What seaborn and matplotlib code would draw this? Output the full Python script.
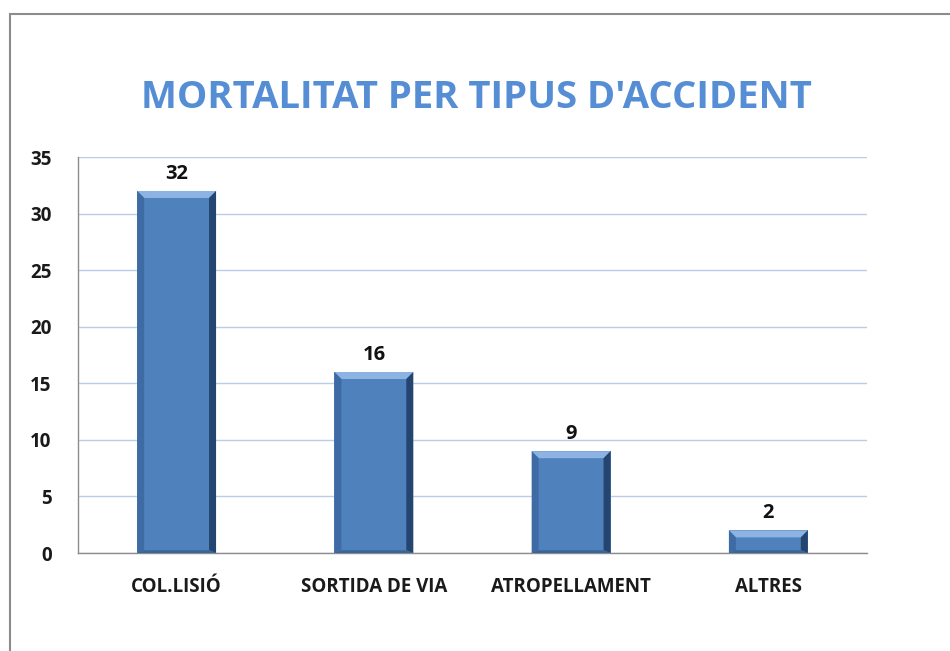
import matplotlib
matplotlib.use('Agg')
import matplotlib.pyplot as plt
import seaborn as sns
import pandas as pd
from matplotlib.patches import Polygon, Rectangle

# dades del grafic
tipus = ['COL.LISIÓ', 'SORTIDA DE VIA', 'ATROPELLAMENT', 'ALTRES']
morts = [32, 16, 9, 2]

df = pd.DataFrame({'tipus': tipus, 'morts': morts})

sns.set_style('white')
plt.rcParams['font.family'] = ['Open Sans', 'DejaVu Sans']

fig = plt.figure(figsize=(9.5, 6.51), dpi=100)
ax = fig.add_axes([0.0821, 0.1505, 0.8305, 0.6083])

sns.barplot(data=df, x='tipus', y='morts', color='#4f81bd', width=0.4,
            saturation=1, ax=ax, edgecolor='none', zorder=3)

ax.set_ylim(0, 35)
ax.set_xlim(-0.5, 3.5)
ax.set_yticks(range(0, 36, 5))
ax.yaxis.grid(True, color='#b9cde8', lw=1, zorder=0)
ax.set_xlabel('')
ax.set_ylabel('')

for s in ['top', 'right']:
    ax.spines[s].set_visible(False)
for s in ['left', 'bottom']:
    ax.spines[s].set_color('#8c8c8c')
    ax.spines[s].set_linewidth(1)

ax.tick_params(axis='y', length=8, width=1, color='#8c8c8c', labelsize=13.5, pad=11)
ax.tick_params(axis='x', length=0, labelsize=13.5, pad=17)
for lab in ax.get_xticklabels() + ax.get_yticklabels():
    lab.set_fontweight('bold')
    lab.set_color('#1a1a1a')

# ticks entre categories
ax.set_xticks([i + 0.5 for i in range(-1, len(tipus))], minor=True)
ax.tick_params(axis='x', which='minor', length=8, width=1, color='#8c8c8c')

# etiquetes de valor
ax.bar_label(ax.containers[0], labels=[str(v) for v in morts], padding=5,
             fontsize=14.5, fontweight='bold', color='#111111')

# efecte bisell sobre les barres
fig.canvas.draw()
inv = ax.transData.inverted()
p0 = inv.transform((0, 0))
p1 = inv.transform((7, 7))
bx, by = p1[0] - p0[0], p1[1] - p0[1]
for p in ax.patches:
    x0, y0 = p.get_x(), p.get_y()
    w, h = p.get_width(), p.get_height()
    x1, y1 = x0 + w, y0 + h
    byy = min(by, h / 2)
    faces = [
        ([(x0, y1), (x1, y1), (x1 - bx, y1 - byy), (x0 + bx, y1 - byy)], '#8db3e2'),
        ([(x1, y1), (x1, y0), (x1 - bx, y0 + byy * 0.4), (x1 - bx, y1 - byy)], '#24456f'),
        ([(x0, y1), (x0 + bx, y1 - byy), (x0 + bx, y0 + byy * 0.4), (x0, y0)], '#3f6ba4'),
        ([(x0, y0), (x0 + bx, y0 + byy * 0.4), (x1 - bx, y0 + byy * 0.4), (x1, y0)], '#3a6598'),
    ]
    for pts, c in faces:
        ax.add_patch(Polygon(pts, closed=True, facecolor=c, edgecolor='none', zorder=4))

# titol
fig.text(0.502, 0.849, "MORTALITAT PER TIPUS D'ACCIDENT", ha='center', va='center',
         fontsize=27.5, fontweight='bold', color='#558ed5')

# marc del grafic
fig.patches.append(Rectangle((10 / 950, -0.1), 1.2, 0.1 + 1 - 14 / 651,
                             transform=fig.transFigure, fill=False,
                             edgecolor='#8c8c8c', lw=1.5, figure=fig))

fig.savefig('out.png', dpi=100)
